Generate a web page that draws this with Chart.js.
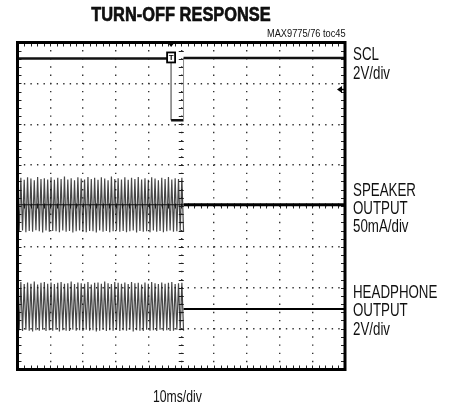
<!DOCTYPE html>
<html>
<head>
<meta charset="utf-8">
<title>Turn-off response</title>
<script src="https://cdn.jsdelivr.net/npm/chart.js@4.4.1/dist/chart.umd.min.js"></script>
<style>
  body { margin: 0; background: #fff; }
  #wrap { position: relative; width: 455px; height: 411px; }
  #wrap div {
    position: absolute; white-space: nowrap; color: #111;
    font-family: 'Liberation Sans', Arial, sans-serif;
    transform-origin: 0 0;
  }
  .lbl { left: 353px; font-size: 18px; line-height: 18.4px; transform: scaleX(0.74); }
  #title {
    left: 0; width: 362px; top: 3.8px; text-align: center;
    font-size: 20.5px; line-height: 20.5px; font-weight: bold; color: #000;
    -webkit-text-stroke: 0.6px #000;
    transform-origin: 181px 0 !important; transform: scaleX(0.8);
  }
  #toc {
    left: 267px; top: 28px; font-size: 10.5px; line-height: 10.5px; color: #222;
    transform: scaleX(0.88);
  }
  #xlabel { left: 152.7px; top: 387.5px; font-size: 16.5px; line-height: 16.5px; transform: scaleX(0.74); }
</style>
</head>
<body>
<div id="wrap">
  <canvas id="scope" width="455" height="411"></canvas>
  <div id="title">TURN-OFF RESPONSE</div>
  <div id="toc">MAX9775/76 toc45</div>
  <div class="lbl" style="top:45.3px">SCL<br>2V/div</div>
  <div class="lbl" style="top:180.6px">SPEAKER<br>OUTPUT<br>50mA/div</div>
  <div class="lbl" style="top:282.9px">HEADPHONE<br>OUTPUT<br>2V/div</div>
  <div id="xlabel">10ms/div</div>
</div>
<script>
// screen: 10 divisions of 10ms across, 8 divisions down (values in divisions)
const timeTicks = [0, 10, 20, 30, 40, 50, 60, 70, 80, 90, 100];
const divTicks = [-4, -3, -2, -1, 0, 1, 2, 3, 4];

// SCL trace (divisions)
const sclTime = [0, 46.9, 46.9, 50.7, 50.7, 100];
const sclLevel = [3.61, 3.61, 2.10, 2.10, 3.62, 3.62];
const triggerTime = 46.9;
const sclGround = 2.85;

// both outputs stop at the same moment
const burstEnd = 50.7;

// speaker output burst, alternating positive / negative peaks
const speakerPeaks = [
  0.66, -0.62, 0.69, -0.60, 0.64, -0.64, 0.70, -0.61, 0.67, -0.63, 0.63, -0.59, 0.71, -0.62, 0.66, -0.65, 0.68, -0.60, 0.65, -0.63,
  0.70, -0.61, 0.64, -0.62, 0.69, -0.64, 0.66, -0.60, 0.72, -0.63, 0.65, -0.61, 0.68, -0.65, 0.63, -0.62, 0.70, -0.60, 0.67, -0.63,
  0.65, -0.64, 0.71, -0.61, 0.66, -0.62, 0.69, -0.65, 0.64, -0.60, 0.70, -0.63, 0.67, -0.61, 0.63, -0.64, 0.72, -0.62, 0.66, -0.60,
  0.68, -0.63, 0.65, -0.61, 0.70, -0.64, 0.64, -0.62, 0.69, -0.60, 0.66, -0.65, 0.71, -0.61, 0.65, -0.63, 0.68, -0.62, 0.64, -0.64,
  0.70, -0.60, 0.67, -0.63, 0.63, -0.61, 0.69, -0.64, 0.66, -0.62, 0.71, -0.60, 0.65, -0.63, 0.68, -0.62, 0.66, -0.61, 0.69, -0.63
];
const speakerRest = 0.03;

// headphone output burst
const headphonePeaks = [
  -1.89, -3.04, -1.86, -3.06, -1.91, -3.03, -1.87, -3.05, -1.90, -3.07, -1.85, -3.04, -1.92, -3.05, -1.88, -3.03, -1.86, -3.06, -1.90, -3.04,
  -1.87, -3.05, -1.91, -3.03, -1.88, -3.07, -1.86, -3.04, -1.90, -3.05, -1.89, -3.06, -1.85, -3.03, -1.91, -3.05, -1.87, -3.04, -1.89, -3.06,
  -1.90, -3.03, -1.86, -3.05, -1.92, -3.04, -1.88, -3.07, -1.87, -3.05, -1.90, -3.03, -1.85, -3.06, -1.89, -3.04, -1.91, -3.05, -1.86, -3.03,
  -1.88, -3.06, -1.90, -3.04, -1.87, -3.05, -1.91, -3.03, -1.86, -3.07, -1.89, -3.04, -1.88, -3.05, -1.92, -3.06, -1.87, -3.03, -1.90, -3.05,
  -1.86, -3.04, -1.89, -3.06, -1.91, -3.03, -1.87, -3.05, -1.90, -3.04, -1.88, -3.06, -1.86, -3.05, -1.91, -3.03, -1.89, -3.04, -1.88, -3.05
];
const headphoneRest = -2.52;

function points(times, values) {
  return times.map((t, i) => ({ x: t, y: values[i] }));
}

function burst(peaks) {
  const step = burstEnd / (peaks.length - 1);
  return peaks.map((v, i) => ({ x: i * step, y: v }));
}

const isEdge = c => c.p0.parsed.x === c.p1.parsed.x;
const afterBurst = c => c.p0.parsed.x >= burstEnd;

// frame, minor ticks and scope markers
const scopeFrame = {
  id: 'scopeFrame',
  beforeDatasetsDraw(chart) {
    const { ctx, chartArea: a, scales: { x, y } } = chart;
    const cx = x.getPixelForValue(50);
    const cy = y.getPixelForValue(0);
    ctx.save();
    ctx.strokeStyle = '#222';
    ctx.lineWidth = 1;
    ctx.beginPath();
    for (let i = 0; i <= 50; i++) {
      const px = Math.round(x.getPixelForValue(i * 2)) + 0.5;
      ctx.moveTo(px, a.top); ctx.lineTo(px, a.top + 4);
      ctx.moveTo(px, a.bottom); ctx.lineTo(px, a.bottom - 4);
      ctx.moveTo(px, cy - 2.5); ctx.lineTo(px, cy + 2.5);
    }
    for (let i = -20; i <= 20; i++) {
      const py = Math.round(y.getPixelForValue(i / 5)) + 0.5;
      ctx.moveTo(a.left, py); ctx.lineTo(a.left + 4, py);
      ctx.moveTo(a.right, py); ctx.lineTo(a.right - 4, py);
      ctx.moveTo(cx - 2.5, py); ctx.lineTo(cx + 2.5, py);
    }
    ctx.stroke();
    ctx.restore();
  },
  afterDatasetsDraw(chart) {
    const { ctx, chartArea: a, scales: { x, y } } = chart;
    ctx.save();
    ctx.strokeStyle = '#000';
    ctx.lineWidth = 3;
    ctx.strokeRect(a.left, a.top, a.right - a.left, a.bottom - a.top);

    // trigger position on the top edge
    const tx = x.getPixelForValue(triggerTime);
    ctx.fillStyle = '#000';
    ctx.beginPath();
    ctx.moveTo(tx - 3.5, a.top);
    ctx.lineTo(tx + 3.5, a.top);
    ctx.lineTo(tx, a.top + 4.5);
    ctx.closePath();
    ctx.fill();

    // trigger level badge
    const ty = y.getPixelForValue(sclLevel[0]);
    ctx.fillStyle = '#fff';
    ctx.fillRect(tx - 4, ty - 6, 8, 10);
    ctx.lineWidth = 1.8;
    ctx.strokeRect(tx - 4, ty - 6, 8, 10);
    ctx.fillStyle = '#000';
    ctx.font = "bold 8px 'Liberation Sans', sans-serif";
    ctx.textAlign = 'center';
    ctx.textBaseline = 'middle';
    ctx.fillText('T', tx, ty - 0.5);

    // SCL ground reference arrow on the right edge
    const gy = y.getPixelForValue(sclGround);
    ctx.beginPath();
    ctx.moveTo(a.right - 8, gy);
    ctx.lineTo(a.right - 3, gy - 3.5);
    ctx.lineTo(a.right - 3, gy + 3.5);
    ctx.closePath();
    ctx.fill();
    ctx.lineWidth = 1.5;
    ctx.beginPath();
    ctx.moveTo(a.right - 4, gy);
    ctx.lineTo(a.right, gy);
    ctx.stroke();
    ctx.restore();
  }
};

new Chart(document.getElementById('scope'), {
  type: 'line',
  data: {
    datasets: [
      {
        label: 'SCL',
        data: points(sclTime, sclLevel),
        borderColor: '#111',
        borderWidth: 2.5,
        segment: {
          borderColor: c => isEdge(c) ? '#8a8a8a' : '#111',
          borderWidth: c => isEdge(c) ? 1 : 2.5
        }
      },
      {
        label: 'Speaker output',
        data: burst(speakerPeaks),
        borderColor: 'rgba(25,25,25,0.8)',
        borderWidth: 1.2
      },
      {
        label: 'Speaker output (off)',
        data: points([0, burstEnd, 100], [speakerRest, speakerRest, speakerRest]),
        borderColor: '#000',
        segment: { borderWidth: c => afterBurst(c) ? 3 : 1.2 }
      },
      {
        label: 'Headphone output',
        data: burst(headphonePeaks),
        borderColor: 'rgba(25,25,25,0.8)',
        borderWidth: 1.2
      },
      {
        label: 'Headphone output (off)',
        data: points([burstEnd, 100], [headphoneRest, headphoneRest]),
        borderColor: '#000',
        borderWidth: 2
      }
    ]
  },
  options: {
    responsive: false,
    animation: false,
    elements: { point: { radius: 0 }, line: { tension: 0 } },
    layout: { padding: { left: 17.5, right: 110, top: 42.5, bottom: 41.5 } },
    plugins: {
      legend: { display: false },
      tooltip: { enabled: false },
      title: { display: false }
    },
    scales: {
      x: {
        type: 'linear',
        min: timeTicks[0],
        max: timeTicks[timeTicks.length - 1],
        afterBuildTicks: s => { s.ticks = timeTicks.map(v => ({ value: v })); },
        ticks: { display: false },
        grid: { drawTicks: false, color: '#333', lineWidth: 1.4 },
        border: { display: false, dash: [1.4, 6.78], dashOffset: 0.7 }
      },
      y: {
        type: 'linear',
        min: divTicks[0],
        max: divTicks[divTicks.length - 1],
        afterBuildTicks: s => { s.ticks = divTicks.map(v => ({ value: v })); },
        ticks: { display: false },
        grid: { drawTicks: false, color: '#333', lineWidth: 1.4 },
        border: { display: false, dash: [1.4, 5.15], dashOffset: 0.7 }
      }
    }
  },
  plugins: [scopeFrame]
});
</script>
</body>
</html>
